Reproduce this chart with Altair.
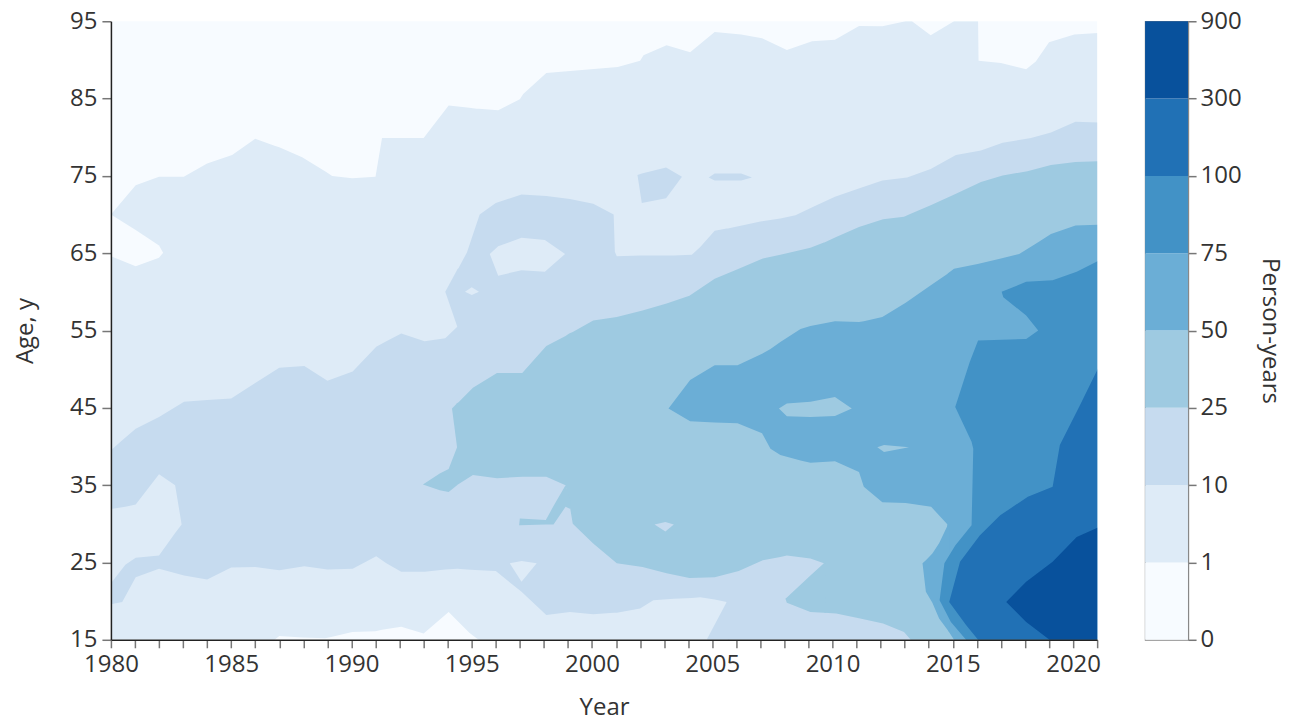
import json
import altair as alt
import pandas as pd

X_MIN, X_MAX = 1980, 2021
Y_MIN, Y_MAX = 15, 95
COLORS = ["#f7fbff", "#deebf7", "#c6dbef", "#9ecae1", "#6baed6", "#4292c6", "#2171b5", "#08519c"]
LEGEND_LABELS = ["0", "1", "10", "25", "50", "75", "100", "300", "900"]
X_TICKS = list(range(1980, 2022))
Y_TICKS = list(range(15, 96, 10))

# ---- contour bands: (year, lower age, upper age) ----
L1_MAIN = [
    (1980.0, 15, 70.0), (1981.03, 15, 73.8), (1982.0, 15, 74.9), (1983.03, 15, 74.9),
    (1984.0, 15, 76.6), (1985.04, 15, 77.7), (1986.0, 15, 79.8), (1986.8, 15, 78.9),
    (1987.0, 15.5, 78.7), (1987.95, 15.3, 77.4), (1988.9, 15.2, 75.6), (1989.2, 15.4, 75.0),
    (1990.03, 16.0, 74.7), (1991.0, 16.1, 74.9), (1991.27, 16.3, 79.9), (1992.07, 16.7, 79.9),
    (1993.0, 15.8, 79.9), (1994.04, 18.6, 84.1), (1994.9, 15.9, 83.8), (1995.2, 15.2, 83.7),
    (1995.3, 15, 83.7), (1996.1, 15, 83.5), (1997.0, 15, 84.9), (1997.14, 15, 85.6),
    (1998.1, 15, 88.3), (2001.07, 15, 89.1), (2002.0, 15, 89.9), (2002.14, 15, 90.6),
    (2003.1, 15, 91.9), (2004.08, 15, 91.0), (2005.1, 15, 93.6), (2006.2, 15, 93.3),
    (2007.07, 15, 92.8), (2008.1, 15, 91.3), (2009.15, 15, 92.4), (2010.1, 15, 92.6),
    (2011.1, 15, 94.4), (2012.07, 15, 94.35), (2013.04, 15, 95), (2013.3, 15, 95),
    (2014.08, 15, 93.2), (2015.05, 15, 95), (2016.05, 15, 95), (2016.07, 15, 89.9),
    (2017.0, 15, 89.6), (2018.05, 15, 88.8), (2018.45, 15, 89.8), (2019.0, 15, 92.3),
    (2020.05, 15, 93.3), (2021.1, 15, 93.5),
]
L1_HOLE_WEDGE = [(1980.0, 64.6, 70.0), (1981.03, 63.3, 68.0), (1982.0, 64.4, 66.0), (1982.17, 65.05, 65.05)]

L2_MAIN = [
    (1980.0, 19.6, 39.5), (1980.47, 19.9, 40.8), (1981.03, 23.1, 42.3), (1982.0, 24.2, 43.8),
    (1983.04, 23.3, 45.8), (1984.0, 22.8, 46.0), (1985.0, 24.35, 46.2), (1986.0, 24.4, 48.2),
    (1987.0, 24.0, 50.2), (1988.04, 24.5, 50.4), (1989.0, 24.1, 48.5), (1990.05, 24.2, 49.7),
    (1991.03, 25.8, 52.9), (1991.45, 24.9, 53.6), (1992.07, 23.8, 54.6), (1993.04, 23.8, 53.6),
    (1993.9, 24.1, 54.0), (1994.4, 24.2, 55.5), (1994.42, 24.2, 62.9), (1994.8, 24.1, 65.1),
    (1995.33, 24.0, 70.0), (1996.0, 23.9, 71.5), (1997.07, 21.2, 72.6), (1998.1, 18.2, 72.4),
    (1999.08, 18.6, 72.0), (2000.05, 18.3, 71.4), (2000.9, 18.5, 70.0), (2000.95, 18.5, 65.2),
    (2001.03, 18.5, 64.6), (2002.0, 19.05, 64.7), (2002.55, 20.1, 64.7), (2003.4, 20.3, 64.7),
    (2004.15, 20.4, 64.8), (2004.5, 20.5, 65.8), (2005.1, 20.2, 67.9), (2005.6, 19.9, 68.2),
    (2005.65, 15, 68.2), (2007.0, 15, 69.1), (2007.83, 15, 69.5), (2008.46, 15, 69.9),
    (2009.2, 15, 71.0), (2010.1, 15, 72.3), (2011.03, 15, 73.3), (2012.07, 15, 74.4),
    (2013.1, 15, 74.8), (2014.08, 15, 75.9), (2015.13, 15, 77.7), (2016.17, 15, 78.3),
    (2017.07, 15, 79.3), (2018.25, 15, 79.9), (2019.08, 15, 80.6), (2020.1, 15, 82.0),
    (2021.1, 15, 81.9),
]
L2_SPIKE = [(1993.9, 60.0, 60.0), (1994.4, 55.5, 62.9), (1994.45, 55.6, 63.1)]
L2_FOOT = [(2004.8, 15, 15.2), (2005.6, 15, 19.9), (2005.72, 15, 19.9)]
L2_HOLE_LEFT = [(1980.0, 22.3, 31.9), (1980.6, 24.7, 32.2), (1981.03, 25.6, 32.5),
                (1982.0, 25.9, 36.4), (1982.67, 28.8, 35.0), (1982.94, 29.9, 29.9)]
L2_HOLE_1996 = [(1995.75, 64.9, 64.9), (1996.1, 62.1, 65.9), (1997.07, 62.8, 67.0),
                (1998.04, 62.6, 66.7), (1998.88, 64.9, 64.9)]
L2_HOLE_1995 = [(1994.72, 60.0, 60.0), (1995.0, 59.6, 60.6), (1995.3, 60.0, 60.0)]
L2_HOLE_1997 = [(1996.58, 24.9, 24.9), (1997.07, 22.5, 25.2), (1997.7, 24.9, 24.9)]
L2_ISLAND_2002 = [(2001.89, 75.1, 75.1), (2002.07, 71.5, 75.3), (2003.08, 72.1, 76.1), (2003.74, 74.9, 74.9)]
L2_ISLAND_2005 = [(2004.85, 74.8, 74.8), (2005.1, 74.4, 75.3), (2006.2, 74.4, 75.3), (2006.65, 74.8, 74.8)]

L3_MAIN = [
    (1992.97, 35.1, 35.1), (1993.67, 34.35, 36.5), (1994.04, 34.1, 37.1), (1994.39, 35.0, 39.9),
    (1994.41, 35.05, 45.6), (1995.05, 36.3, 47.6), (1996.05, 35.9, 49.5), (1997.1, 36.1, 49.5),
    (1998.1, 36.1, 53.0), (1998.9, 35.0, 54.3), (1999.05, 32.8, 54.6), (1999.2, 30.0, 54.8),
    (2000.05, 27.45, 56.3), (2001.03, 24.9, 56.75), (2002.1, 24.4, 57.6), (2003.1, 23.6, 58.5),
    (2004.05, 23.0, 59.5), (2005.1, 23.1, 61.7), (2006.1, 23.9, 63.0), (2007.1, 25.3, 64.3),
    (2007.83, 25.7, 64.8), (2008.1, 25.9, 65.0), (2009.08, 25.5, 65.7), (2009.64, 24.9, 66.4),
    (2009.66, 18.5, 66.4), (2010.15, 18.4, 67.1), (2011.1, 17.8, 68.4), (2012.1, 17.1, 69.4),
    (2012.97, 16.0, 69.7), (2013.25, 15, 70.1), (2014.08, 15, 71.2), (2015.13, 15, 72.7),
    (2016.17, 15, 74.2), (2017.07, 15, 75.05), (2018.1, 15, 75.6), (2019.08, 15, 76.4),
    (2020.1, 15, 76.8), (2021.1, 15, 76.9),
]
L3_SPIKE = [(1994.18, 44.9, 44.9), (1994.39, 39.9, 45.6), (1994.44, 39.9, 45.7)]
L3_STRIP = [(1996.97, 29.8, 29.8), (1997.0, 29.8, 30.7), (1998.08, 29.9, 30.5),
            (1998.4, 29.9, 32.3), (1998.9, 32.2, 35.0), (1999.1, 31.9, 33.0)]
L3_WEDGE = [(2008.04, 20.3, 20.3), (2008.1, 19.8, 20.47), (2009.08, 18.6, 23.3),
            (2009.64, 18.5, 24.9), (2009.72, 18.5, 24.9)]
L3_HOLE = [(2002.6, 29.9, 29.9), (2003.05, 29.0, 30.25), (2003.4, 29.9, 29.9)]

L4_MAIN = [
    (2003.18, 44.9, 44.9), (2004.08, 43.25, 48.6), (2005.1, 43.1, 50.5), (2006.05, 43.0, 50.5),
    (2007.07, 41.7, 52.0), (2007.42, 39.7, 52.6), (2007.83, 38.9, 53.5), (2008.67, 38.2, 55.2),
    (2009.08, 37.9, 55.6), (2010.1, 38.1, 56.2), (2011.1, 36.7, 56.1), (2011.3, 34.8, 56.2),
    (2012.07, 32.8, 56.75), (2013.04, 32.7, 58.6), (2014.1, 32.2, 60.9), (2014.77, 29.95, 62.3),
    (2014.8, 16.2, 62.4), (2015.05, 15, 63.0), (2016.03, 15, 63.6), (2017.0, 15, 64.3),
    (2017.76, 15, 64.9), (2018.53, 15, 66.4), (2019.08, 15, 67.5), (2020.1, 15, 68.6),
    (2021.1, 15, 68.7),
]
L4_LOBE = [(2013.74, 24.9, 24.9), (2013.88, 21.2, 25.3), (2014.15, 19.8, 26.15),
           (2014.43, 17.75, 27.5), (2014.8, 16.2, 29.9), (2014.85, 16.0, 29.9)]
L4_HOLE_A = [(2007.77, 44.9, 44.9), (2008.1, 43.9, 45.55), (2009.08, 43.8, 45.8),
             (2010.1, 43.95, 46.4), (2010.8, 44.9, 44.9)]
L4_HOLE_B = [(2011.86, 39.9, 39.9), (2012.14, 39.3, 40.2), (2013.18, 39.9, 39.9)]

# ---- right-hand bands read as (age, left edge year) ----
L5_MAIN = [
    (15.0, 2015.55), (17.3, 2014.92), (20.1, 2014.45), (24.9, 2014.65), (27.2, 2015.1),
    (29.8, 2015.78), (39.7, 2015.85), (40.6, 2015.78), (45.1, 2015.1), (50.9, 2015.7),
    (53.7, 2016.05), (53.9, 2018.05), (55.0, 2018.55), (56.95, 2018.05), (59.3, 2017.1),
    (60.0, 2017.03), (61.3, 2018.05), (61.5, 2019.15), (62.6, 2020.15), (64.1, 2021.1),
]
L6_MAIN = [
    (15.0, 2016.05), (16.9, 2015.55), (19.9, 2014.85), (25.1, 2015.3), (28.5, 2016.12),
    (31.1, 2016.97), (33.5, 2018.12), (34.8, 2019.15), (40.2, 2019.45), (45.3, 2020.28),
    (50.5, 2021.1),
]
L7_MAIN = [
    (15.0, 2019.02), (17.3, 2018.05), (19.9, 2017.22), (22.5, 2018.05), (25.1, 2019.15),
    (28.3, 2020.15), (29.6, 2021.1),
]

DRAW = [
    ("v", L1_MAIN, 1), ("v", L1_HOLE_WEDGE, 0),
    ("v", L2_MAIN, 2), ("v", L2_SPIKE, 2), ("v", L2_FOOT, 2),
    ("v", L2_HOLE_LEFT, 1), ("v", L2_HOLE_1996, 1), ("v", L2_HOLE_1995, 1), ("v", L2_HOLE_1997, 1),
    ("v", L2_ISLAND_2002, 2), ("v", L2_ISLAND_2005, 2),
    ("v", L3_MAIN, 3), ("v", L3_SPIKE, 3), ("v", L3_STRIP, 3), ("v", L3_WEDGE, 3), ("v", L3_HOLE, 2),
    ("v", L4_MAIN, 4), ("v", L4_LOBE, 4), ("v", L4_HOLE_A, 3), ("v", L4_HOLE_B, 3),
    ("h", L5_MAIN, 5), ("h", L6_MAIN, 6), ("h", L7_MAIN, 7),
]

FONT = "Open Sans"
TEXT = "#333333"
LABEL_SIZE = 24
TITLE_SIZE = 24

xscale = alt.Scale(domain=[X_MIN, X_MAX], nice=False, zero=False)
yscale = alt.Scale(domain=[Y_MIN, Y_MAX], nice=False, zero=False)
x_axis = alt.Axis(
    title="Year", values=X_TICKS, format="d",
    labelExpr="datum.value % 5 === 0 ? '' + datum.value : ''",
    tickSize=8, tickColor="#777777", tickWidth=1.5, domainColor="#222222", domainWidth=1.5,
    labelFontSize=LABEL_SIZE, labelColor=TEXT, labelPadding=5, labelFlush=False,
    titleFontSize=TITLE_SIZE, titleFontWeight="normal", titleColor=TEXT, titlePadding=19,
    grid=False, zindex=1,
)
y_axis = alt.Axis(
    title="Age, y", values=Y_TICKS, format="d",
    tickSize=9, tickColor="#777777", tickWidth=1.5, domainColor="#222222", domainWidth=1.5,
    labelFontSize=LABEL_SIZE, labelColor=TEXT, labelPadding=5,
    titleFontSize=TITLE_SIZE, titleFontWeight="normal", titleColor=TEXT, titlePadding=32,
    grid=False, zindex=1,
)

layers = []
for orient, pts, lvl in DRAW:
    if orient == "v":
        df = pd.DataFrame(pts, columns=["year", "lo", "hi"])
        layer = alt.Chart(df).mark_area(color=COLORS[lvl], clip=True, opacity=1).encode(
            x=alt.X("year:Q", scale=xscale, axis=x_axis),
            y=alt.Y("lo:Q", scale=yscale, axis=y_axis),
            y2="hi:Q",
        )
    else:
        df = pd.DataFrame(pts, columns=["age", "left"])
        df["right"] = X_MAX + 0.2
        layer = alt.Chart(df).mark_area(color=COLORS[lvl], clip=True, orient="horizontal", opacity=1).encode(
            y=alt.Y("age:Q", scale=yscale, axis=y_axis),
            x=alt.X("left:Q", scale=xscale, axis=x_axis),
            x2="right:Q",
        )
    layers.append(layer)

main = alt.layer(*layers).properties(
    width=987, height=619,
    view=alt.ViewBackground(fill=COLORS[0], stroke=None),
)

leg_df = pd.DataFrame({"k": list(range(8)), "lo": list(range(8)), "hi": list(range(1, 9))})
legend = alt.Chart(leg_df).mark_rect().encode(
    y=alt.Y("lo:Q", scale=alt.Scale(domain=[0, 8], nice=False, zero=False),
            axis=alt.Axis(
                orient="right", values=list(range(9)), title="Person-years",
                labelExpr=json.dumps(LEGEND_LABELS) + "[datum.value]",
                tickSize=8, tickColor="#777777", tickWidth=1.5, domainColor="#888888", domainWidth=1.2,
                labelFontSize=LABEL_SIZE, labelColor=TEXT, labelPadding=4,
                titleFontSize=TITLE_SIZE, titleFontWeight="normal", titleColor=TEXT, titlePadding=16,
                titleAngle=90, grid=False, zindex=1,
            )),
    y2="hi:Q",
    color=alt.Color("k:O", scale=alt.Scale(domain=list(range(8)), range=COLORS), legend=None),
).properties(width=43, height=619, view=alt.ViewBackground(stroke="#888888", strokeWidth=1.2, fill="white"))

chart = alt.hconcat(main, legend, spacing=43).properties(
    padding={"left": 5, "top": 0, "right": 0, "bottom": 0},
    background="white",
).configure(font=FONT).configure_view(stroke=None)

chart.save("out.html", embed_options={"renderer": "svg", "actions": False})
